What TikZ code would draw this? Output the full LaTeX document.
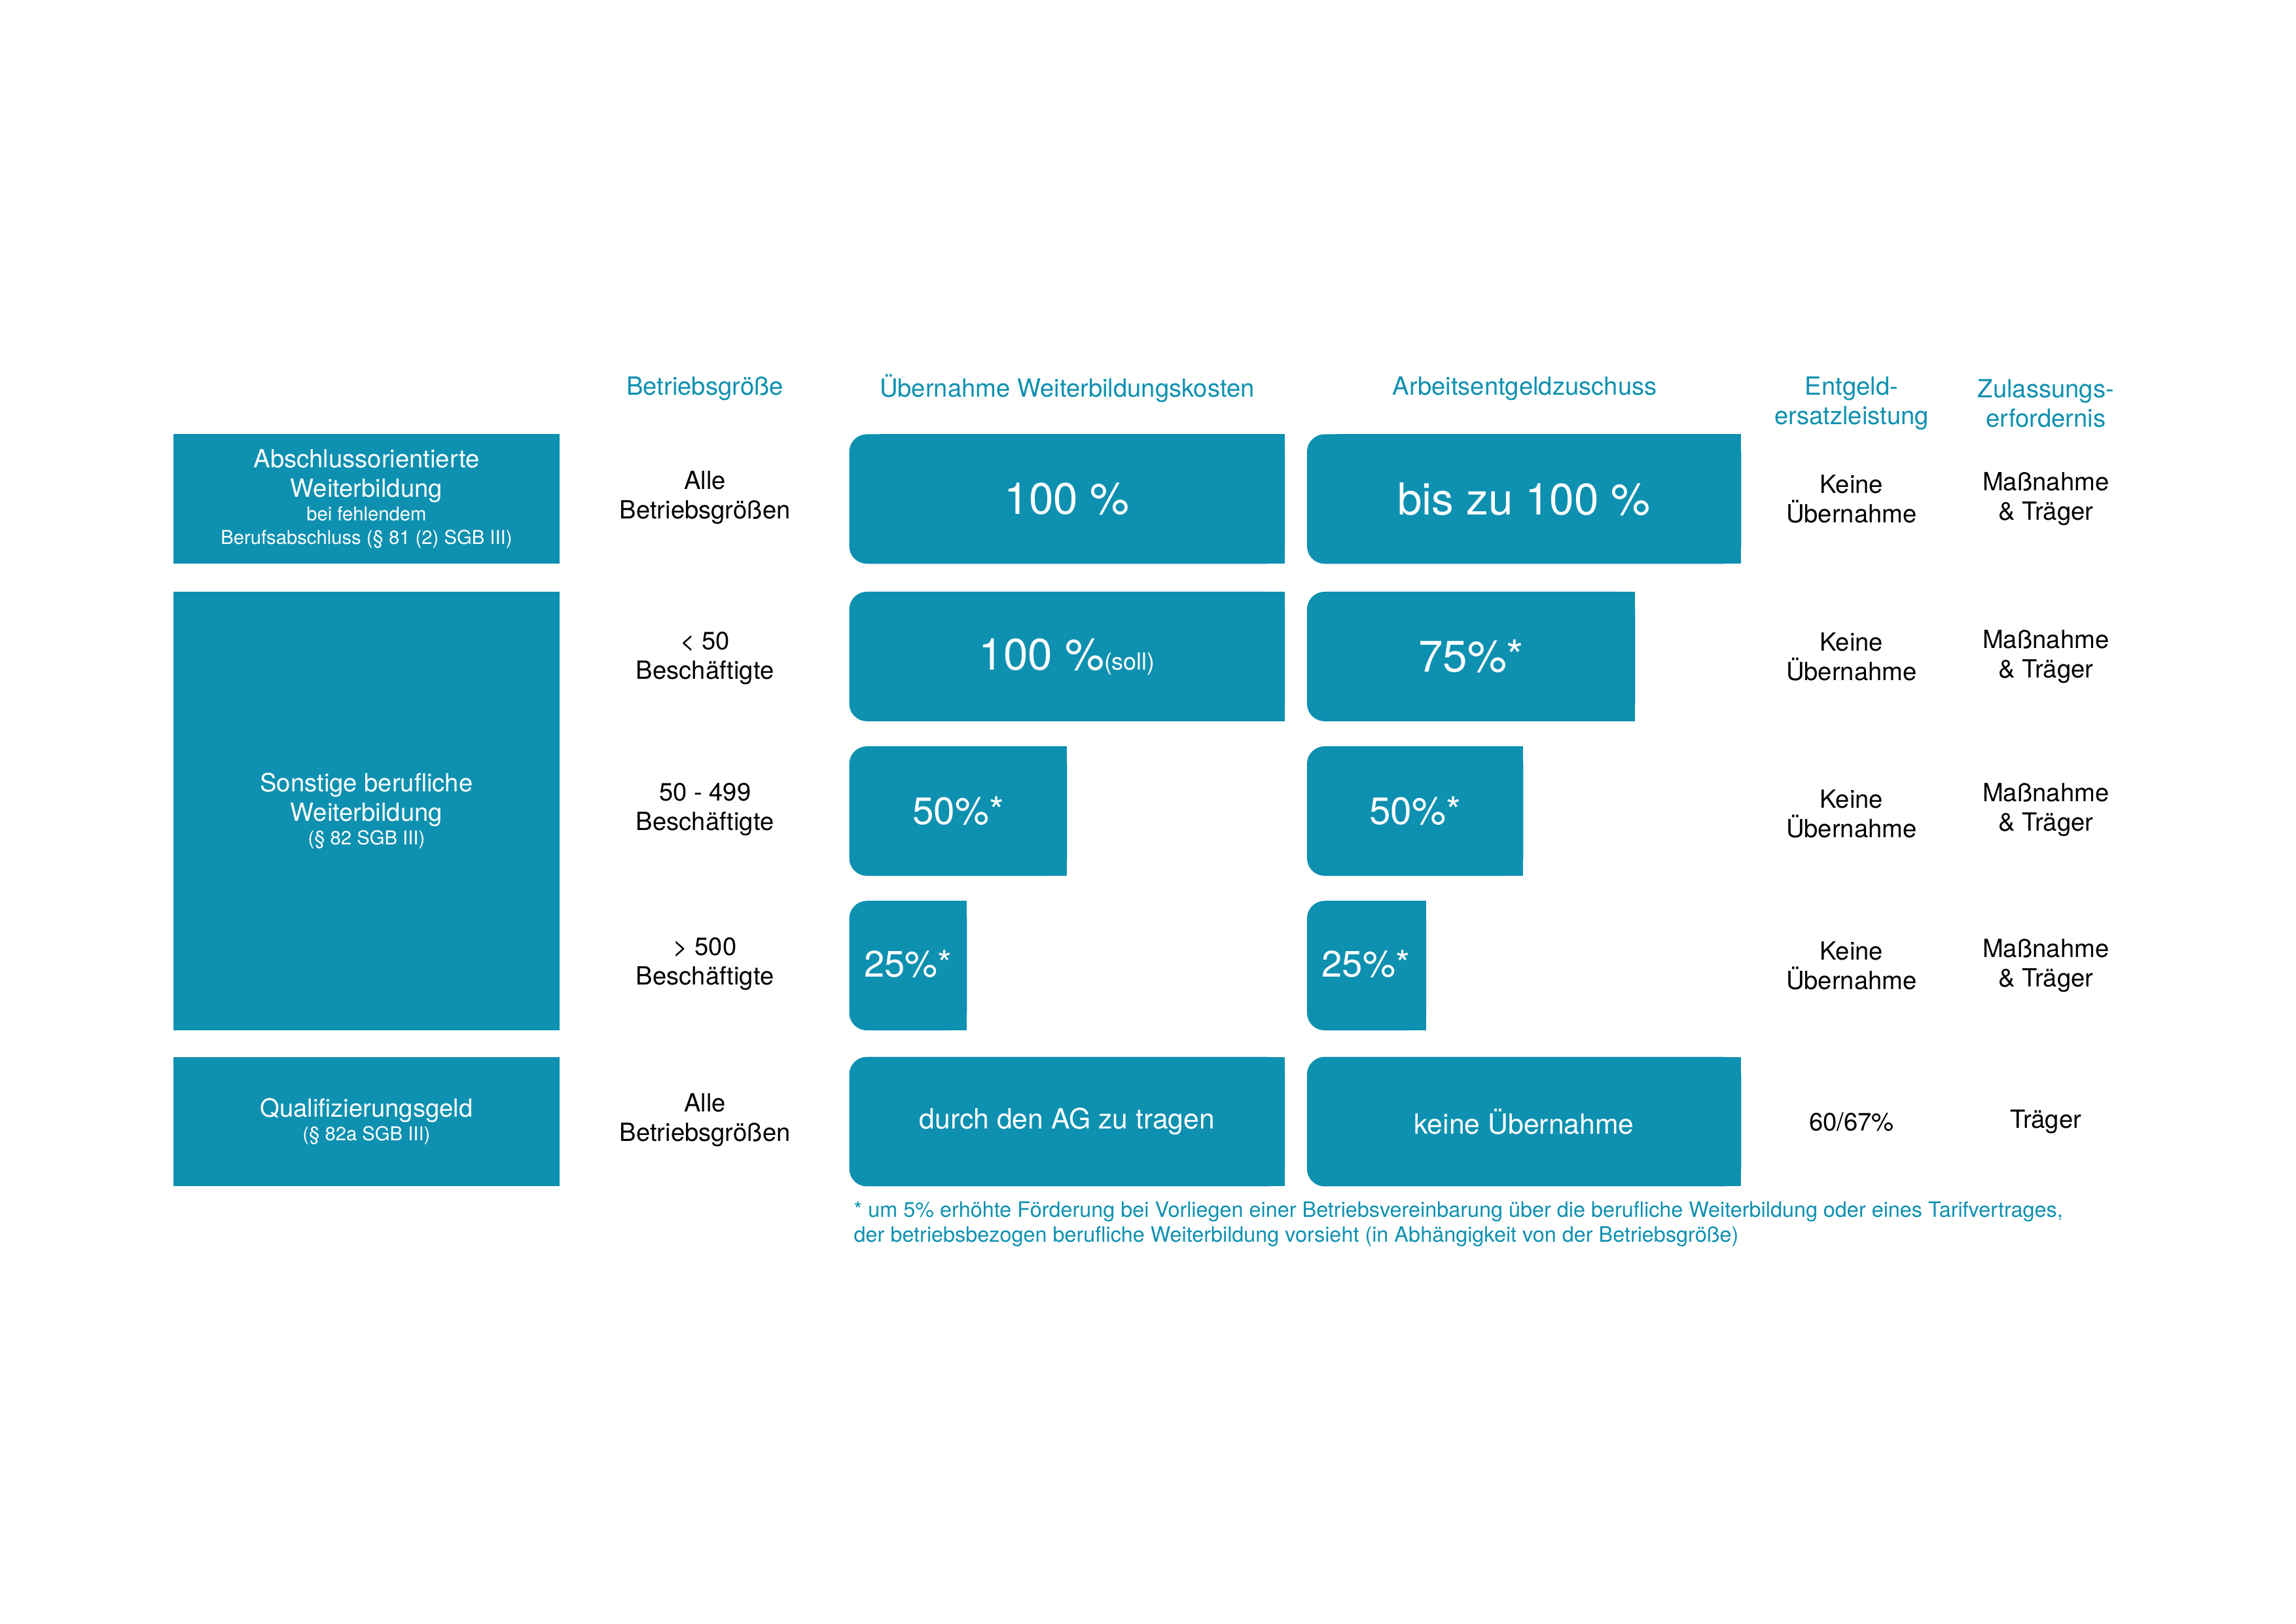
\documentclass[tikz,border=0pt]{standalone}
\usepackage{fontspec}
\setmainfont{TeX Gyre Heros}
\definecolor{teal}{HTML}{0E90B0}
\newcommand{\lbox}[5]{% name,x1,y1,x2,y2
  \fill[teal,rounded corners=12] (#2,#3) rectangle (#4,#5);
  \fill[teal] (#2+20,#3) rectangle (#4,#5);
  \coordinate (#1) at ({(#2+#4)/2},{(#3+#5)/2});}
\newcommand{\sm}[1]{{\fontsize{13}{16}\selectfont #1}}
\begin{document}
\begin{tikzpicture}[x=1pt,y=-1pt,
  hd/.style={text=teal,font=\fontsize{17}{20}\selectfont,align=center},
  tx/.style={font=\fontsize{17}{20}\selectfont,align=center},
  wt/.style={text=white,align=center},
  side/.style={fill=teal,text=white,align=center,minimum width=262,inner sep=0,font=\fontsize{17}{20}\selectfont}]
\useasboundingbox (0,0) rectangle (1560,1103);
% headers
\node[hd] (h1) at (479,264) {Betriebsgröße};
\node[hd] (h2) at (725,264) {Übernahme Weiterbildungskosten};
\node[hd] (h3) at (1036,264) {Arbeitsentgeldzuschuss};
\node[hd] (h4) at (1258,274) {Entgeld-\\ersatzleistung};
\node[hd] (h5) at (1390,274) {Zulassungs-\\erfordernis};
% left column
\node[side,minimum height=88] (s1) at (249,339) {Abschlussorientierte\\Weiterbildung\\[-4pt]\sm{bei fehlendem}\\[-4pt]\sm{Berufsabschluss (§ 81 (2) SGB III)}};
\node[side,minimum height=298] (s2) at (249,551) {Sonstige berufliche\\Weiterbildung\\[-4pt]\sm{(§ 82 SGB III)}};
\node[side,minimum height=88] (s3) at (249,762) {Qualifizierungsgeld\\[-4pt]\sm{(§ 82a SGB III)}};
% Betriebsgröße
\node[tx] (b1) at (479,338) {Alle\\Betriebsgrößen};
\node[tx] (b2) at (479,447) {< 50\\Beschäftigte};
\node[tx] (b3) at (479,550) {50 - 499\\Beschäftigte};
\node[tx] (b4) at (479,655) {> 500\\Beschäftigte};
\node[tx] (b5) at (479,761) {Alle\\Betriebsgrößen};
% Weiterbildungskosten
\lbox{k1}{577}{295}{873}{383}
\node[wt,font=\fontsize{30}{34}\selectfont] (k1t) at (k1) {100 \%};
\lbox{k2}{577}{402}{873}{490}
\node[wt,font=\fontsize{30}{34}\selectfont] (k2t) at (k2) {100 \%\fontsize{16}{18}\selectfont(soll)};
\lbox{k3}{577}{507}{725}{595}
\node[wt,font=\fontsize{26}{30}\selectfont] (k3t) at (k3) {50\%*};
\lbox{k4}{577}{612}{657}{700}
\node[wt,font=\fontsize{25}{30}\selectfont] (k4t) at (617,655) {25\%*};
\lbox{k5}{577}{718}{873}{806}
\node[wt,font=\fontsize{19}{22}\selectfont] (k5t) at (k5) {durch den AG zu tragen};
% Arbeitsentgeldzuschuss
\lbox{a1}{888}{295}{1183}{383}
\node[wt,font=\fontsize{30}{34}\selectfont] (a1t) at (a1) {bis zu 100 \%};
\lbox{a2}{888}{402}{1111}{490}
\node[wt,font=\fontsize{30}{34}\selectfont] (a2t) at (a2) {75\%*};
\lbox{a3}{888}{507}{1035}{595}
\node[wt,font=\fontsize{26}{30}\selectfont] (a3t) at (a3) {50\%*};
\lbox{a4}{888}{612}{969}{700}
\node[wt,font=\fontsize{25}{30}\selectfont] (a4t) at (928,655) {25\%*};
\lbox{a5}{888}{718}{1183}{806}
\node[wt,font=\fontsize{19}{22}\selectfont] (a5t) at (a5) {keine Übernahme};
% Entgeldersatz
\node[tx] (e1) at (1258,339) {Keine\\Übernahme};
\node[tx] (e2) at (1258,446) {Keine\\Übernahme};
\node[tx] (e3) at (1258,553) {Keine\\Übernahme};
\node[tx] (e4) at (1258,656) {Keine\\Übernahme};
\node[tx] (e5) at (1258,762) {60/67\%};
% Zulassung
\node[tx] (z1) at (1390,339) {Maßnahme\\\& Träger};
\node[tx] (z2) at (1390,446) {Maßnahme\\\& Träger};
\node[tx] (z3) at (1390,550) {Maßnahme\\\& Träger};
\node[tx] (z4) at (1390,656) {Maßnahme\\\& Träger};
\node[tx] (z5) at (1390,762) {Träger};
% footnote
\node[text=teal,font=\fontsize{14.4}{17}\selectfont,align=left,anchor=north west,inner sep=0] (fn) at (580,816) {* um 5\% erhöhte Förderung bei Vorliegen einer Betriebsvereinbarung über die berufliche Weiterbildung oder eines Tarifvertrages,\\der betriebsbezogen berufliche Weiterbildung vorsieht (in Abhängigkeit von der Betriebsgröße)};
\end{tikzpicture}
\end{document}
